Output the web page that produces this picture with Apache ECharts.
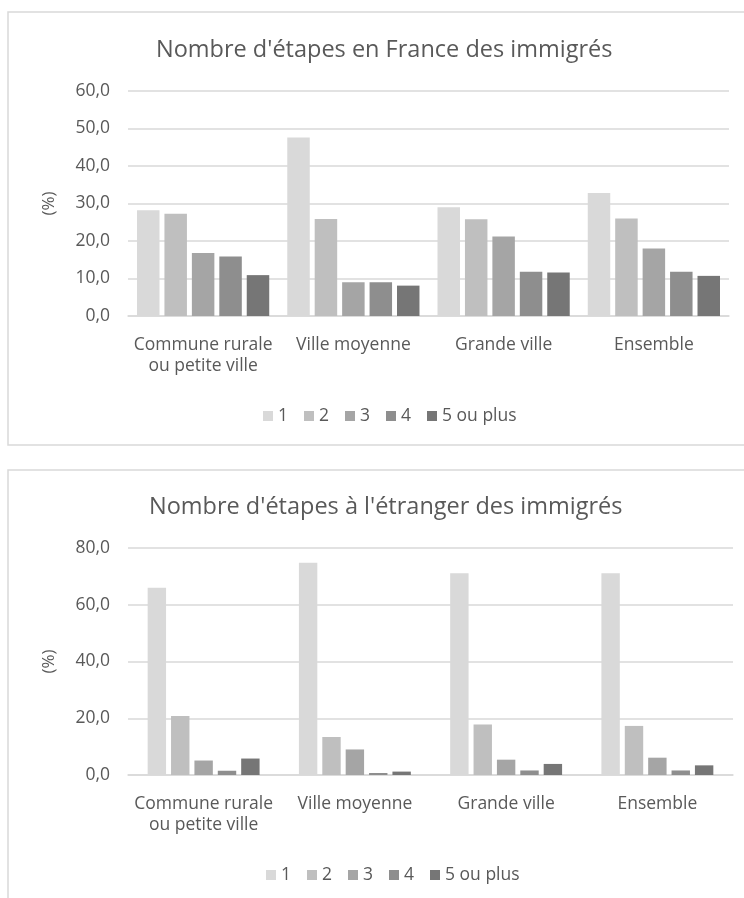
<!DOCTYPE html>
<html>
<head>
<meta charset="utf-8">
<script src="https://cdn.jsdelivr.net/npm/echarts@6/dist/echarts.min.js"></script>
<style>
html, body { margin: 0; padding: 0; background: #fff; }
#main { width: 744px; height: 898px; }
</style>
</head>
<body>
<div id="main"></div>
<script>
var categories = ['Commune rurale\nou petite ville', 'Ville moyenne', 'Grande ville', 'Ensemble'];
var seriesNames = ['1', '2', '3', '4', '5 ou plus'];
var colors = ['#d9d9d9', '#bfbfbf', '#a5a5a5', '#8e8e8e', '#767676'];

// Nombre d'étapes en France
var france1 = [28.2, 47.6, 29.0, 32.8];
var france2 = [27.3, 25.9, 25.8, 26.0];
var france3 = [16.8, 9.0, 21.2, 18.0];
var france4 = [15.9, 9.0, 11.8, 11.8];
var france5 = [10.9, 8.1, 11.6, 10.7];

// Nombre d'étapes à l'étranger
var etranger1 = [66.0, 74.8, 71.1, 71.1];
var etranger2 = [20.8, 13.4, 17.8, 17.3];
var etranger3 = [5.1, 9.0, 5.4, 6.1];
var etranger4 = [1.5, 0.7, 1.6, 1.6];
var etranger5 = [5.8, 1.2, 3.9, 3.4];

var topTicks = [0, 60, 10];
var bottomTicks = [0, 80, 20];

var font = "'Open Sans', sans-serif";
var textColor = '#595959';

var myChart = echarts.init(document.getElementById('main'));

function fmt(v) {
    return v.toFixed(1).replace('.', ',');
}

function xAxis(idx) {
    return {
        type: 'category',
        gridIndex: idx,
        data: categories,
        axisTick: { show: false },
        axisLine: { lineStyle: { color: '#d9d9d9', width: 1.5 } },
        axisLabel: { interval: 0, color: textColor, fontFamily: font, fontSize: 17.5, lineHeight: 21, margin: 19 }
    };
}

function yAxis(idx, ticks) {
    return {
        type: 'value',
        gridIndex: idx,
        min: ticks[0],
        max: ticks[1],
        interval: ticks[2],
        name: '(%)',
        nameLocation: 'middle',
        nameRotate: 90,
        nameGap: 70,
        nameTextStyle: { color: textColor, fontFamily: font, fontSize: 17 },
        axisLine: { show: false },
        axisTick: { show: false },
        splitLine: { lineStyle: { color: '#d9d9d9', width: 1.5 } },
        axisLabel: { color: textColor, fontFamily: font, fontSize: 17.5, margin: 18, formatter: fmt }
    };
}

var topData = [france1, france2, france3, france4, france5];
var bottomData = [etranger1, etranger2, etranger3, etranger4, etranger5];
var series = [];
seriesNames.forEach(function (name, i) {
    series.push({
        name: name, type: 'bar', xAxisIndex: 0, yAxisIndex: 0,
        data: topData[i], itemStyle: { color: colors[i] },
        barGap: '22%', barCategoryGap: '12%'
    });
});
seriesNames.forEach(function (name, i) {
    series.push({
        name: name, type: 'bar', xAxisIndex: 1, yAxisIndex: 1,
        data: bottomData[i], itemStyle: { color: colors[i] },
        barGap: '27%', barCategoryGap: '26%'
    });
});

var legendBase = {
    data: seriesNames,
    icon: 'rect',
    itemWidth: 10,
    itemHeight: 10,
    itemGap: 16,
    textStyle: { color: textColor, fontFamily: font, fontSize: 17.5 }
};

var option = {
    animation: false,
    graphic: [
        { type: 'rect', shape: { x: 8, y: 12, width: 760, height: 433 }, style: { fill: 'none', stroke: '#d9d9d9', lineWidth: 1.5 } },
        { type: 'rect', shape: { x: 8, y: 470, width: 760, height: 440 }, style: { fill: 'none', stroke: '#d9d9d9', lineWidth: 1.5 } }
    ],
    title: [
        { text: "Nombre d'étapes en France des immigrés", left: 151, top: 33,
          textStyle: { color: textColor, fontFamily: font, fontSize: 23.5, fontWeight: 'normal' } },
        { text: "Nombre d'étapes à l'étranger des immigrés", left: 144, top: 490,
          textStyle: { color: textColor, fontFamily: font, fontSize: 23.5, fontWeight: 'normal' } }
    ],
    legend: [
        Object.assign({ left: 258, top: 402 }, legendBase),
        Object.assign({ left: 261, top: 861 }, legendBase)
    ],
    grid: [
        { left: 128, right: 15, top: 91, bottom: 582 },
        { left: 128, right: 11, top: 548, bottom: 123 }
    ],
    xAxis: [xAxis(0), xAxis(1)],
    yAxis: [yAxis(0, topTicks), yAxis(1, bottomTicks)],
    series: series
};

myChart.setOption(option);
</script>
</body>
</html>
